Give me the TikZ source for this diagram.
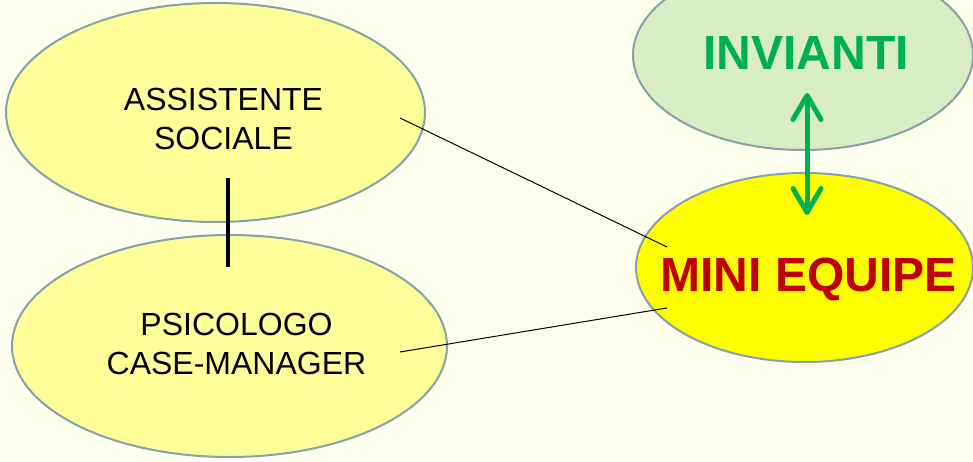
\documentclass[tikz,border=0pt]{standalone}
\usepackage{fontspec}
\setmainfont{Liberation Sans}
\usetikzlibrary{shapes.geometric,arrows.meta}
\definecolor{bgcream}{HTML}{FFFFF0}
\definecolor{paleyellow}{HTML}{FFFF99}
\definecolor{brightyellow}{HTML}{FFFF00}
\definecolor{palegreen}{HTML}{D9EEC2}
\definecolor{rimgray}{HTML}{87A0AA}
\definecolor{arrowgreen}{HTML}{00B050}
\definecolor{darkred}{HTML}{C00000}
\tikzset{
  bubble/.style={ellipse, draw=rimgray, line width=2pt, inner sep=0pt},
  roletext/.style={font=\fontsize{32}{39}\selectfont, align=center, inner sep=0pt, text=black},
  bigtext/.style={font=\fontsize{48}{56}\selectfont\bfseries, inner sep=0pt},
  thinlink/.style={draw=black, line width=1pt},
  thicklink/.style={draw=black, line width=4.5pt},
  greenlink/.style={draw=arrowgreen, line width=5pt, line cap=round,
    {Straight Barb[length=24pt,width=28pt,line cap=round,line join=round]}-{Straight Barb[length=24pt,width=28pt,line cap=round,line join=round]}}
}
\begin{document}
\begin{tikzpicture}[x=1pt,y=-1pt]
\useasboundingbox (0,0) rectangle (973,462);
\clip (0,0) rectangle (973,462);
\fill[bgcream] (0,0) rectangle (973,462);

% ellipses
\node[bubble, fill=paleyellow, minimum width=419pt, minimum height=219pt] (as) at (215.5,112.5) {};
\node[bubble, fill=paleyellow, minimum width=435pt, minimum height=222pt] (ps) at (229.5,346) {};
\node[bubble, fill=palegreen, minimum width=340pt, minimum height=190pt] (inv) at (803,55) {};
\node[bubble, fill=brightyellow, minimum width=337pt, minimum height=189pt] (me) at (804.5,267.5) {};

% texts
\node[roletext] (astext) at (223.5,119.2) {ASSISTENTE\\SOCIALE};
\node[roletext] (pstext) at (236.5,344.2) {PSICOLOGO\\CASE-MANAGER};
\node[bigtext, text=arrowgreen] (invtext) at (806,52.5) {INVIANTI};
\node[bigtext, text=darkred, anchor=base] (metext) at (808.5,291.7) {MINI EQUIPE};

% connector end points
\coordinate (asin) at (400,118);
\coordinate (mein1) at (667,247);
\coordinate (psin) at (400,352);
\coordinate (mein2) at (667,308);
\coordinate (astop) at (228,178);
\coordinate (psbot) at (228,267);
\coordinate (invend) at (807,93);
\coordinate (meend) at (807,215);

% connectors
\draw[thinlink] (asin) -- (mein1);
\draw[thinlink] (psin) -- (mein2);
\draw[thicklink] (astop) -- (psbot);
\draw[greenlink] (invend) -- (meend);
\end{tikzpicture}
\end{document}
